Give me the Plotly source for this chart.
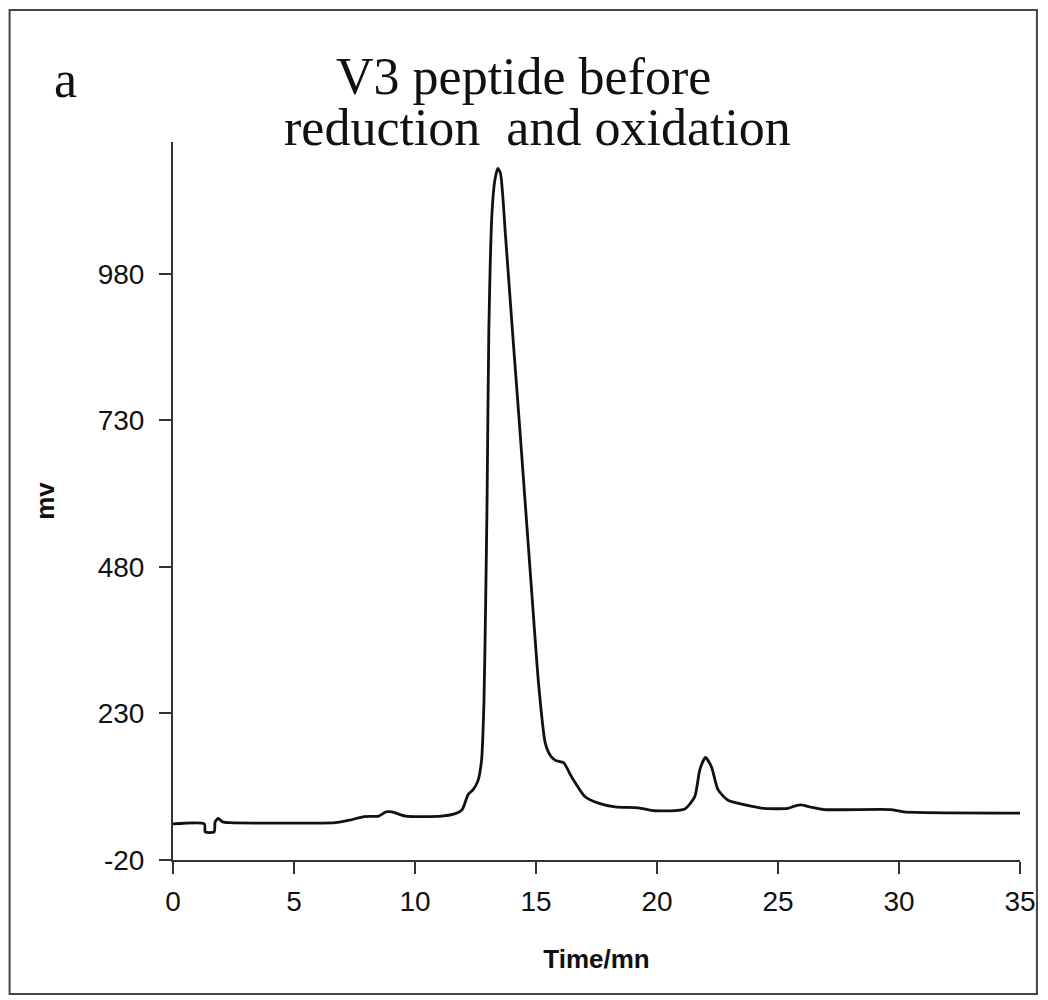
import plotly.graph_objects as go

# Chromatogram: retention time (min) vs detector signal (mV)
time_min = [0, 1.3, 1.33, 1.7, 1.74, 1.87, 2.05, 2.35, 6.7, 7.3, 7.9, 8.5, 8.8, 9.05,
            9.6, 11.1, 11.7, 11.95, 12.2, 12.4, 12.6, 12.75, 12.85, 12.92, 12.98,
            13.05, 13.18, 13.3, 13.42, 13.53, 13.74, 14.01, 14.29, 14.56, 14.83,
            15.11, 15.38, 15.6, 15.8, 16.14, 16.47, 17.03, 17.58, 18.27, 19.23,
            19.91, 21.15, 21.56, 21.77, 22.0, 22.25, 22.52, 22.93, 23.88, 24.44,
            25.4, 25.68, 25.95, 26.36, 26.9, 29.65, 30.2, 35.3]
signal_mv = [41.5, 41.5, 28, 28, 45, 51, 45, 43.7, 43.7, 48, 54, 55, 62, 62,
             55, 55, 59.6, 66, 92, 100, 115, 150, 250, 420, 600,
             880, 1083, 1140, 1160, 1152, 1045, 892, 738, 586, 433,
             279, 180, 158, 150, 146, 122, 88, 77, 70.5, 69,
             64, 67, 88, 134, 155, 139, 100, 82, 72, 68,
             68, 72, 74, 70, 66, 66, 62, 60]

x_ticks = [0, 5, 10, 15, 20, 25, 30, 35]
x_ticktext = ["0", "5", "10", "15", "20", "25", "30", "35"]
y_ticks = [-20, 230, 480, 730, 980]
y_ticktext = ["-20", "230", "480", "730", "980"]

fig = go.Figure()
fig.add_trace(go.Scatter(x=time_min, y=signal_mv, mode="lines",
                         line=dict(color="#111111", width=2.8, shape="spline", smoothing=0.6),
                         showlegend=False, hoverinfo="skip"))

# page body has an 8px margin: shift everything up/left by 8px
OFF = 8
axis_col = "#333333"
fig.update_layout(
    width=1040, height=992,
    margin=dict(l=173 - OFF, r=25, t=142 - OFF, b=140),
    paper_bgcolor="white", plot_bgcolor="white",
    xaxis=dict(range=[0, 35], tickvals=x_ticks, ticktext=x_ticktext, showgrid=False, zeroline=False,
               showline=True, linecolor=axis_col, linewidth=2,
               ticks="outside", ticklen=12, tickwidth=1.5, tickcolor=axis_col,
               ticklabelstandoff=3,
               tickfont=dict(family="Liberation Sans, Arial", size=28, color="#111"),
               title=dict(text="<b>Time/mn</b>", standoff=34,
                          font=dict(family="Liberation Sans, Arial", size=26, color="#111"))),
    yaxis=dict(range=[-20, 1205], tickvals=y_ticks, ticktext=y_ticktext, showgrid=False, zeroline=False,
               showline=True, linecolor=axis_col, linewidth=2,
               ticks="outside", ticklen=12, tickwidth=1.5, tickcolor=axis_col,
               ticklabelstandoff=9,
               tickfont=dict(family="Liberation Sans, Arial", size=28, color="#111"),
               title=dict(text="<b>mv</b>", standoff=36,
                          font=dict(family="Liberation Sans, Arial", size=26, color="#111"))),
)

def px_x(p):
    return (p - 173) / 850.0

def px_y(p):
    return (860 - p) / 718.0

serif = dict(family="Liberation Serif, Times New Roman", size=52, color="#111")
fig.add_annotation(text="V3 peptide before", x=px_x(525), y=px_y(76), xref="paper", yref="paper",
                   showarrow=False, xanchor="center", yanchor="middle", font=serif)
fig.add_annotation(text="reduction  and oxidation", x=px_x(539), y=px_y(127), xref="paper", yref="paper",
                   showarrow=False, xanchor="center", yanchor="middle", font=serif)
fig.add_annotation(text="a", x=px_x(65), y=px_y(80), xref="paper", yref="paper",
                   showarrow=False, xanchor="center", yanchor="middle", font=serif)

fig.add_shape(type="rect", xref="paper", yref="paper",
              x0=px_x(9), x1=px_x(1040), y0=px_y(994), y1=px_y(10),
              line=dict(color="#444444", width=2), layer="below")

fig.write_html("out.html")
